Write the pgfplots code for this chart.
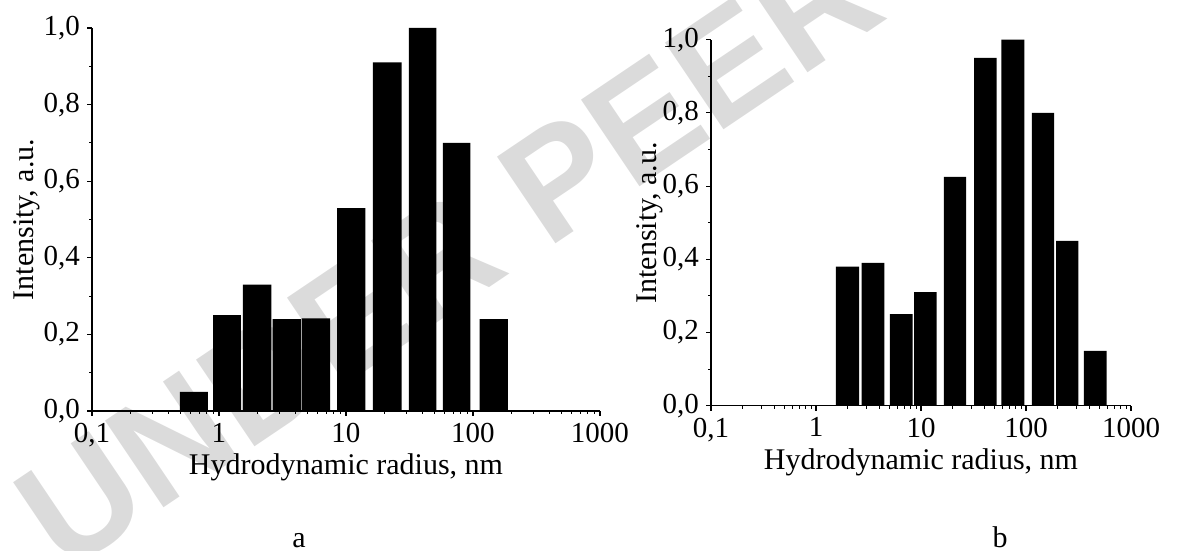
\documentclass[border=0pt]{standalone}
\usepackage{fontspec}
\setmainfont{Liberation Serif}
\newfontfamily\wmfont{Liberation Sans}
\usepackage{pgfplots}
\pgfplotsset{compat=1.18}
\pgfplotsset{
  hist/.style={
    scale only axis, xmin=0.1, xmax=1000, ymin=0, ymax=1,
    axis x line=bottom, axis y line=left,
    axis line style={-, line width=0.65pt},
    tick align=outside, major tick length=2.5pt, minor tick length=1.5pt,
    every tick/.style={black, line width=0.55pt},
    xtick={0.1,1,10,100,1000}, xticklabels={{0,1},1,10,100,1000},
    ytick={0,0.2,0.4,0.6,0.8,1},
    yticklabels={{0,0},{0,2},{0,4},{0,6},{0,8},{1,0}},
    minor ytick={0.1,0.3,0.5,0.7,0.9},
    ticklabel style={font=\fontsize{14.5}{16}\selectfont},
    label style={font=\fontsize{15}{17}\selectfont},
    xlabel={Hydrodynamic radius, nm}, ylabel={Intensity, a.u.},
    xlabel style={at={(axis description cs:0.5,0)}, anchor=base, yshift=-32pt},
    axis on top,
  }
}
\begin{document}
\begin{tikzpicture}
\path[use as bounding box] (0pt,0pt) rectangle (597.5pt,275.5pt);
% watermark
\begin{scope}
\clip (0pt,0pt) rectangle (597.5pt,275.5pt);
\node[rotate=34, anchor=base west, inner sep=0pt, text=black!14,
  font=\wmfont\bfseries\fontsize{76}{80}\selectfont] at (32pt,-12pt) {UNDER PEER REVIEW};
\end{scope}
% panel a
\begin{axis}[xmode=log, hist, at={(46pt,70pt)}, anchor=south west, width=254pt, height=191.5pt,
  ylabel style={at={(axis description cs:-0.1161,0.5)}, anchor=base}]
\addplot[fill=black, draw=none] coordinates {
 (0.492,0) (0.492,0.05) (0.817,0.05) (0.817,0)
 (0.897,0) (0.897,0.25) (1.49,0.25) (1.49,0)
 (1.545,0) (1.545,0.33) (2.58,0.33) (2.58,0)
 (2.64,0) (2.64,0.24) (4.42,0.24) (4.42,0)
 (4.47,0) (4.47,0.242) (7.49,0.242) (7.49,0)
 (8.5,0) (8.5,0.53) (14.2,0.53) (14.2,0)
 (16.3,0) (16.3,0.91) (27.4,0.91) (27.4,0)
 (31.3,0) (31.3,1.0) (51.5,1.0) (51.5,0)
 (57.9,0) (57.9,0.70) (95.5,0.70) (95.5,0)
 (113,0) (113,0.24) (188,0.24) (188,0)
} \closedcycle;
\end{axis}
% panel b
\begin{axis}[xmode=log, hist, at={(355.5pt,72.65pt)}, anchor=south west, width=210pt, height=183pt,
  ylabel style={at={(axis description cs:-0.1286,0.5)}, anchor=base}]
\addplot[fill=black, draw=none] coordinates {
 (1.55,0) (1.55,0.38) (2.57,0.38) (2.57,0)
 (2.72,0) (2.72,0.39) (4.49,0.39) (4.49,0)
 (5.06,0) (5.06,0.25) (8.31,0.25) (8.31,0)
 (8.58,0) (8.58,0.31) (14.1,0.31) (14.1,0)
 (16.5,0) (16.5,0.625) (26.9,0.625) (26.9,0)
 (32.0,0) (32.0,0.95) (52.5,0.95) (52.5,0)
 (58.2,0) (58.2,1.0) (96.3,1.0) (96.3,0)
 (113.7,0) (113.7,0.80) (185,0.80) (185,0)
 (194,0) (194,0.45) (316,0.45) (316,0)
 (356,0) (356,0.15) (585,0.15) (585,0)
} \closedcycle;
\end{axis}
\node[anchor=base, font=\fontsize{15}{17}\selectfont] at (149.5pt,1.5pt) {a};
\node[anchor=base, font=\fontsize{15}{17}\selectfont] at (500pt,1.5pt) {b};
\end{tikzpicture}
\end{document}
